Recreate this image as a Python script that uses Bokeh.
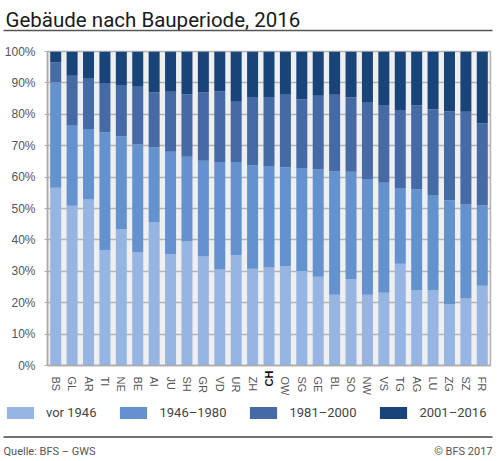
import math
from bokeh.plotting import figure
from bokeh.layouts import column
from bokeh.models import (Range1d, FixedTicker, Label, BoxAnnotation,
                          Legend, LegendItem, ColumnDataSource)
from bokeh.embed import file_html
from bokeh.resources import INLINE

cantons = ["BS", "GL", "AR", "TI", "NE", "BE", "AI", "JU", "SH", "GR", "VD", "UR", "ZH", "CH",
           "OW", "SG", "GE", "BL", "SO", "NW", "VS", "TG", "AG", "LU", "ZG", "SZ", "FR"]
vor_1946 = [56.6, 50.9, 52.9, 36.7, 43.4, 36.0, 45.7, 35.5, 39.5, 34.7, 30.6, 35.2, 30.8, 31.2,
            31.7, 30.1, 28.3, 22.5, 27.5, 22.5, 23.2, 32.4, 24.0, 24.0, 19.5, 21.3, 25.4]
p1946_1980 = [33.6, 25.7, 22.4, 37.6, 29.6, 34.4, 23.7, 32.6, 27.0, 30.5, 34.2, 29.6, 32.9, 32.3,
              31.4, 32.8, 34.2, 39.3, 34.2, 36.9, 35.0, 24.1, 32.1, 30.3, 33.1, 30.0, 25.6]
p1981_2000 = [6.4, 15.7, 16.0, 15.7, 16.3, 18.6, 17.6, 19.1, 19.8, 21.8, 22.5, 19.2, 21.8, 22.0,
              23.1, 21.8, 23.4, 24.4, 23.7, 24.3, 24.8, 24.9, 26.7, 27.3, 28.3, 29.5, 26.1]
p2001_2016 = [3.4, 7.7, 8.7, 10.0, 10.7, 11.0, 13.0, 12.8, 13.7, 13.0, 12.7, 16.0, 14.5, 14.5,
              13.8, 15.3, 14.1, 13.8, 14.6, 16.3, 17.0, 18.6, 17.2, 18.4, 19.1, 19.2, 22.9]
periods = ["vor 1946", "1946–1980", "1981–2000", "2001–2016"]
colors = ["#97b5e2", "#6392cf", "#466aa5", "#18447a"]
y_ticks = list(range(0, 101, 10))
highlight = "CH"

title_text = "Gebäude nach Bauperiode, 2016"
source_text = "Quelle: BFS – GWS"
copyright_text = "© BFS 2017"

W = 498
HH, HM, HF = 34, 364, 62      # header / main / footer heights
ML, MR = 47, 8
RULE_L, RULE_R = 3, 492


def blank(h):
    f = figure(width=W, height=h, x_range=Range1d(0, W), y_range=Range1d(0, h),
               x_axis_location=None, y_axis_location=None, output_backend="svg",
               toolbar_location=None, min_border=0, outline_line_color=None,
               background_fill_color="white", border_fill_color="white")
    f.grid.visible = False
    f.frame_align = False
    return f


# ---------- header ----------
head = blank(HH)
head.add_layout(Label(x=5, y=HH - 19.3, text=title_text, text_font="Roboto", text_font_size="20.5px",
                      text_color="#1a1a1a", text_baseline="alphabetic", text_align="left"))
head.add_layout(BoxAnnotation(left=RULE_L, right=RULE_R, bottom=HH - 30.7, top=HH - 29.3,
                              fill_color="#555555", fill_alpha=1, line_color=None))

# ---------- main chart ----------
n = len(cantons)
xs = [i + 0.5 for i in range(n)]
keys = ["s0", "s1", "s2", "s3"]
src = ColumnDataSource(dict(x=xs, s0=vor_1946, s1=p1946_1980, s2=p1981_2000, s3=p2001_2016))

p = figure(x_range=Range1d(0, n), y_range=Range1d(0, 100),
           width=W, height=HM, output_backend="svg", toolbar_location=None,
           min_border_left=ML, min_border_right=MR, min_border_top=17, min_border_bottom=33,
           background_fill_color="#efefef", border_fill_color="white")
p.frame_align = False
p.outline_line_color = "#b4b4b4"
p.outline_line_width = 1.5

rs = p.vbar_stack(keys, x="x", width=0.67, fill_color=colors, line_color=None, source=src)

p.xgrid.grid_line_color = None
p.ygrid.ticker = FixedTicker(ticks=y_ticks)
p.ygrid.grid_line_color = "#b4b4b4"
p.ygrid.grid_line_width = 1.5

ya = p.yaxis[0]
ya.ticker = FixedTicker(ticks=y_ticks)
ya.major_label_overrides = {t: f"{t}%" for t in y_ticks}
ya.major_label_text_font = "Liberation Sans"
ya.major_label_text_font_size = "12px"
ya.major_label_text_color = "#555555"
ya.axis_line_color = "#aaaaaa"
ya.axis_line_width = 1.5
ya.major_tick_line_color = "#aaaaaa"
ya.major_tick_out = 3
ya.major_tick_in = 0
ya.minor_tick_line_color = None
ya.major_label_standoff = 9

x_ticks = [x for x, c in zip(xs, cantons) if c != highlight]
xa = p.xaxis[0]
xa.ticker = FixedTicker(ticks=x_ticks, minor_ticks=[])
xa.major_label_overrides = {x: c for x, c in zip(xs, cantons) if c != highlight}
xa.major_label_orientation = "vertical"
xa.major_label_text_font = "Liberation Sans"
xa.major_label_text_font_size = "11px"
xa.major_label_text_color = "#555555"
xa.axis_line_color = "#aaaaaa"
xa.axis_line_width = 1.5
xa.major_tick_line_color = None
xa.minor_tick_line_color = None
xa.major_label_standoff = 5

hx = xs[cantons.index(highlight)]
p.add_layout(Label(x=hx, y=0, x_units="data", y_units="data", y_offset=-5,
                   text=highlight, angle=math.pi / 2, text_align="right", text_baseline="middle",
                   text_font="Liberation Sans", text_font_size="11px", text_font_style="bold",
                   text_color="#111111"), "above")

# ---------- footer ----------
foot = blank(HF)
dummies = [foot.vbar(x=[0], top=[0], bottom=[0], width=0, fill_color=c, line_color=None)
           for c in colors]
legend = Legend(items=[LegendItem(label=periods[i], renderers=[dummies[i]]) for i in range(4)],
                location=(3, HF - 22), orientation="horizontal",
                glyph_width=34, glyph_height=15, label_standoff=9, spacing=20,
                padding=0, margin=0, border_line_color=None, background_fill_alpha=0,
                label_text_font="Roboto", label_text_font_size="13px", label_text_color="#444444",
                label_height=15)
foot.add_layout(legend)
foot.add_layout(BoxAnnotation(left=RULE_L, right=RULE_R, bottom=HF - 39.2, top=HF - 37.8,
                              fill_color="#444444", fill_alpha=1, line_color=None))
foot.add_layout(Label(x=3, y=HF - 53, text=source_text, text_font="Roboto", text_font_size="11px",
                      text_color="#555555", text_baseline="alphabetic", text_align="left"))
foot.add_layout(Label(x=RULE_R, y=HF - 53, text=copyright_text, text_font="Roboto",
                      text_font_size="11px", text_color="#555555", text_baseline="alphabetic",
                      text_align="right"))

layout = column(head, p, foot, spacing=0)
open("out.html", "w").write(file_html(layout, INLINE))
